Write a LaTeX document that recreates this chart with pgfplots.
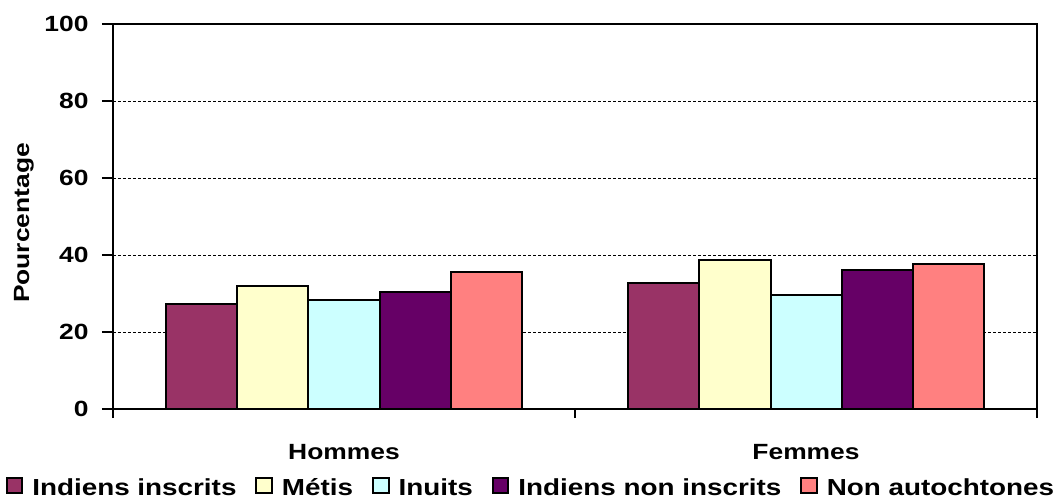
\documentclass[border=0pt]{standalone}
\usepackage{pgfplots}
\pgfplotsset{compat=1.18}
\usepackage{fontspec}
\setmainfont{Liberation Sans}[FakeStretch=1.2]
\definecolor{cA}{HTML}{993366}
\definecolor{cB}{HTML}{FFFFCC}
\definecolor{cC}{HTML}{CCFFFF}
\definecolor{cD}{HTML}{660066}
\definecolor{cE}{HTML}{FF8080}
\newcommand{\ff}{\fontsize{22}{26}\selectfont\bfseries}
\newcommand{\fl}{\fontsize{23.2}{28}\selectfont\bfseries}
\begin{document}
\begin{tikzpicture}
\useasboundingbox (-113pt,-91pt) rectangle (949pt,409pt);
\begin{axis}[
  scale only axis,
  width=924pt, height=385pt,
  at={(0,0)}, anchor=south west,
  ymin=0, ymax=100,
  xmin=-0.5, xmax=1.5,
  ytick={0,20,...,100},
  xtick={0,1},
  xticklabels={Hommes,Femmes},
  minor xtick={-0.5,0.5,1.5},
  xtick pos=bottom, ytick pos=left,
  font=\ff,
  /pgf/number format/assume math mode=true,
  yticklabel style={font=\ff, xshift=-10pt},
  xticklabel style={font=\ff, anchor=base, yshift=-39pt},
  ylabel={Pourcentage},
  ylabel style={font=\ff, at={(axis description cs:-0.0909,0.483)}, anchor=base},
  axis line style={line width=2pt},
  every tick/.style={black, line width=2pt},
  major x tick style={draw=none},
  tick align=outside,
  major tick length=11pt,
  minor tick length=9pt,
  ymajorgrids,
  grid style={black, densely dashed, line width=0.6pt},
  ybar=0pt,
  bar width=0.1537,
  legend style={at={(axis description cs:0.5,0)}, anchor=south, xshift=-44pt, yshift=-90.5pt, draw=none, inner sep=0pt, legend columns=5,
    font=\fl,
    /tikz/every odd column/.append style={column sep=7pt},
    /tikz/every even column/.append style={column sep=17pt}},
  legend image code/.code={\draw[#1] (0.75pt,-5pt) rectangle (16.25pt,10pt);},
]
\addplot[fill=cA, draw=black, line width=2pt] coordinates {(0,27.4) (1,32.6)};
\addplot[fill=cB, draw=black, line width=2pt] coordinates {(0,32.0) (1,38.8)};
\addplot[fill=cC, draw=black, line width=2pt] coordinates {(0,28.4) (1,29.5)};
\addplot[fill=cD, draw=black, line width=2pt] coordinates {(0,30.5) (1,36.2)};
\addplot[fill=cE, draw=black, line width=2pt] coordinates {(0,35.7) (1,37.7)};
\legend{Indiens inscrits, Métis, Inuits, Indiens non inscrits, Non autochtones}
\end{axis}
\end{tikzpicture}
\end{document}
